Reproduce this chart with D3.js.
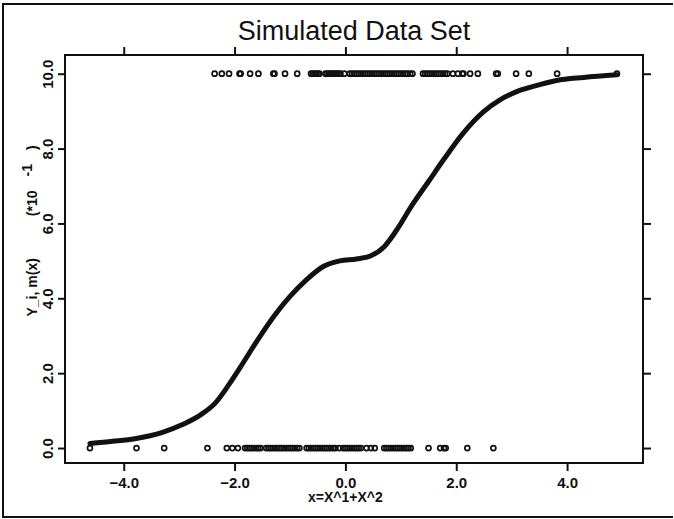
<!DOCTYPE html>
<html><head><meta charset="utf-8">
<script src="https://cdn.jsdelivr.net/npm/d3@7"></script>
<style>
body{margin:0;background:#fff}
text{font-family:"Liberation Sans",Arial,sans-serif;fill:#111}
</style>
</head><body>
<svg id="chart" width="674" height="519"></svg>
<script>
// Axis ticks (y axis shown in units of 10^-1)
const xTicks = [-4, -2, 0, 2, 4];
const yTicks = [0, 2, 4, 6, 8, 10];

// Smoothed regression curve m(x)
const curveX = [-4.61, -4.2, -3.8, -3.3, -2.95, -2.6, -2.35, -2.1, -1.9, -1.6, -1.3, -1.0, -0.7, -0.4, -0.1, 0.2, 0.45, 0.7, 0.95, 1.2, 1.5, 1.77, 2.13, 2.49, 2.79, 3.09, 3.39, 3.81, 4.3, 4.9];
const curveY = [0.12, 0.18, 0.25, 0.42, 0.62, 0.9, 1.2, 1.7, 2.15, 2.85, 3.5, 4.05, 4.5, 4.85, 5.0, 5.05, 5.13, 5.38, 5.88, 6.48, 7.12, 7.7, 8.42, 8.98, 9.3, 9.52, 9.66, 9.82, 9.9, 9.97];

// Observations with Y_i = 1 (plotted at 10.0) and Y_i = 0 (plotted at 0.0)
const obsYHigh = 10;
const obsYLow = 0;
const obsHighX = [-2.36, -2.23, -2.10, -1.91, -1.89, -1.72, -1.57, -1.30, -1.28, -1.09, -0.87,
  -0.62, -0.59, -0.56, -0.53, -0.50, -0.47,
  -0.36, -0.33, -0.30, -0.27, -0.24, -0.21, -0.18, -0.15, -0.12, -0.09, -0.02,
  0.08, 0.12, 0.16, 0.20, 0.24, 0.28, 0.32, 0.36, 0.40, 0.44, 0.48, 0.52, 0.56, 0.60, 0.64, 0.68, 0.72, 0.76, 0.80, 0.84, 0.88, 0.92, 0.96, 1.00, 1.04, 1.08, 1.12, 1.17, 1.21,
  1.40, 1.44, 1.48, 1.52, 1.56, 1.60, 1.64, 1.68, 1.72, 1.76, 1.80, 1.84,
  1.94, 2.03, 2.11, 2.13, 2.25, 2.39, 2.72, 2.75, 3.08, 3.31, 3.82, 4.90];
const obsLowX = [-4.61, -3.77, -3.27, -2.49, -2.14, -2.04, -1.94,
  -1.81, -1.77, -1.73, -1.69, -1.65, -1.61, -1.57, -1.53,
  -1.43, -1.39, -1.35, -1.31, -1.27, -1.23, -1.19, -1.15, -1.11, -1.07, -1.03, -0.99, -0.95, -0.91, -0.87, -0.83,
  -0.70, -0.66, -0.62, -0.58, -0.54, -0.50, -0.46, -0.42, -0.38, -0.34, -0.30, -0.26, -0.22, -0.18, -0.11,
  -0.04, 0.00, 0.04, 0.08, 0.12, 0.16, 0.20, 0.24, 0.28, 0.38, 0.46, 0.53,
  0.70, 0.74, 0.78, 0.82, 0.86, 0.90, 0.94, 0.98, 1.02, 1.06, 1.10, 1.14, 1.18,
  1.50, 1.71, 1.78, 1.81, 2.20, 2.67];

const svg = d3.select("#chart");
const plot = {left: 65, right: 643, top: 55, bottom: 463};

const x = d3.scaleLinear().domain([-5.06, 5.37]).range([plot.left, plot.right]);
const y = d3.scaleLinear().domain([-0.4, 10.5]).range([plot.bottom, plot.top]);
const fmt = d3.format(".1f");

// Outer page frame
svg.append("path")
  .attr("d", "M673,4 L3,4 L3,517 L673,517")
  .attr("fill", "none").attr("stroke", "#111").attr("stroke-width", 2);

// Title
svg.append("text")
  .attr("x", 354).attr("y", 40)
  .attr("text-anchor", "middle")
  .style("font-family", "'Liberation Sans Narrow','Liberation Sans',Arial,sans-serif")
  .style("font-size", "27px")
  .text("Simulated Data Set");

function styleAxis(g, labels) {
  g.select(".domain").remove();
  g.selectAll(".tick line").attr("stroke", "#111").attr("stroke-width", 2);
  if (!labels) g.selectAll(".tick text").remove();
  else g.selectAll(".tick text")
    .style("font-family", "'Liberation Sans',Arial,sans-serif")
    .style("font-size", "15px").style("font-weight", "bold").attr("fill", "#111");
}

// Bottom axis with labels
svg.append("g").attr("transform", `translate(0,${plot.bottom})`)
  .call(d3.axisBottom(x).tickValues(xTicks).tickSize(8).tickPadding(6).tickFormat(fmt))
  .call(g => styleAxis(g, true));
// Top axis, ticks only
svg.append("g").attr("transform", `translate(0,${plot.top})`)
  .call(d3.axisTop(x).tickValues(xTicks).tickSize(8))
  .call(g => styleAxis(g, false));
// Left axis with rotated labels
const yl = svg.append("g").attr("transform", `translate(${plot.left},0)`)
  .call(d3.axisLeft(y).tickValues(yTicks).tickSize(7).tickFormat(fmt))
  .call(g => styleAxis(g, true));
yl.selectAll(".tick text")
  .attr("x", null).attr("dy", null)
  .attr("text-anchor", "middle")
  .attr("transform", "translate(-12,0) rotate(-90)");
// Right axis, ticks only
svg.append("g").attr("transform", `translate(${plot.right},0)`)
  .call(d3.axisRight(y).tickValues(yTicks).tickSize(8))
  .call(g => styleAxis(g, false));

// Plot frame
svg.append("rect")
  .attr("x", plot.left).attr("y", plot.top)
  .attr("width", plot.right - plot.left).attr("height", plot.bottom - plot.top)
  .attr("fill", "none").attr("stroke", "#111").attr("stroke-width", 2);

// Axis titles
svg.append("text")
  .attr("x", x(0)).attr("y", 502)
  .attr("text-anchor", "middle")
  .style("font-size", "14px").style("font-weight", "bold")
  .text("x=X^1+X^2");

const yt = svg.append("text")
  .attr("transform", `translate(37,${y(5.8)}) rotate(-90)`)
  .attr("text-anchor", "middle")
  .style("font-size", "14px").style("font-weight", "bold");
yt.append("tspan").text("Y_i, m(x)\u2003\u2003\u2003(*10\u2003");
yt.append("tspan").attr("dy", -5).text("-1");
yt.append("tspan").attr("dy", 5).text("\u2003)");

// Observations
const obs = obsHighX.map(v => ({x: v, y: obsYHigh})).concat(obsLowX.map(v => ({x: v, y: obsYLow})));
svg.append("g").selectAll("circle").data(obs).join("circle")
  .attr("cx", d => x(d.x)).attr("cy", d => y(d.y)).attr("r", 2.5)
  .attr("fill", "none").attr("stroke", "#111").attr("stroke-width", 1.7);

// Regression curve
const line = d3.line().x((d, i) => x(curveX[i])).y(d => y(d)).curve(d3.curveMonotoneX);
svg.append("path")
  .attr("d", line(curveY))
  .attr("fill", "none").attr("stroke", "#111").attr("stroke-width", 5)
  .attr("stroke-linecap", "round").attr("stroke-linejoin", "round");
</script>
</body></html>
